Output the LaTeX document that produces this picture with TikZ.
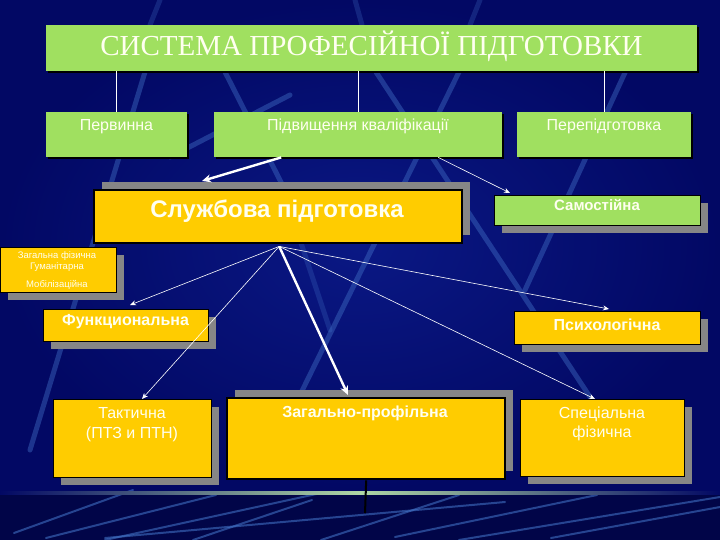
\documentclass[tikz,border=0pt]{standalone}
\usepackage{fontspec}
\setmainfont{Liberation Sans}
\newfontfamily\titlefont{Liberation Serif}
\usetikzlibrary{arrows.meta,shadows}
\definecolor{bgnavy}{RGB}{2,8,100}
\definecolor{bgdeep}{RGB}{1,5,72}
\definecolor{bglight}{RGB}{10,24,132}
\definecolor{streakc}{RGB}{70,120,205}
\definecolor{boxgreen}{RGB}{160,224,96}
\definecolor{boxyellow}{RGB}{255,204,0}
\definecolor{shgray}{RGB}{134,134,134}
\definecolor{bandgreen}{RGB}{175,215,165}
\definecolor{txtwhite}{RGB}{255,255,240}
\tikzset{
  gbox/.style={fill=boxgreen, draw=none, inner sep=0pt, anchor=north west},
  ybox/.style={fill=boxyellow, draw=black, line width=0.8pt, inner sep=0pt, anchor=north west},
  heavybox/.style={fill=boxyellow, draw=black, line width=2.4pt, inner sep=0pt, anchor=north west},
  shdown/.style={drop shadow={shadow xshift=8pt, shadow yshift=-8pt, fill=shgray, opacity=1}},
  shup/.style={drop shadow={shadow xshift=8pt, shadow yshift=8pt, fill=shgray, opacity=1}},
  shdark/.style={drop shadow={shadow xshift=2pt, shadow yshift=-2pt, fill=black, opacity=1}},
  lbl/.style={text=txtwhite, inner sep=0pt, anchor=base},
  treeline/.style={draw=white, line width=0.6pt},
  thinarr/.style={draw=white, line width=0.6pt, -{Stealth[length=6pt, width=5pt]}},
  thickarr/.style={draw=white, line width=2.4pt, -{Stealth[length=9pt, width=8pt]}},
  streak/.style={draw=streakc, line width=5pt, opacity=0.4, line cap=round},
  lowstreak/.style={draw=streakc, line width=2pt, opacity=0.55, line cap=round}
}
\begin{document}
\begin{tikzpicture}[x=1pt, y=-1pt]
% background
\useasboundingbox (0,0) rectangle (720,540);
\shade[inner color=bglight, outer color=bgnavy] (0,0) rectangle (720,491);
\fill[bgdeep] (0,491) rectangle (720,540);
% background streaks
\draw[streak] (145,72) -- (30,450);
\draw[streak] (225,72) -- (285,190);
\draw[streak] (376,72) -- (592,400);
\draw[streak] (459,72) -- (300,395);
\draw[streak] (640,40) -- (525,290);
\draw[streak, opacity=0.25] (300,240) -- (330,330);
\draw[streak] (290,95) -- (170,157);
\draw[streak, opacity=0.25] (160,0) -- (150,25);
\draw[streak, opacity=0.25] (355,0) -- (362,25);
\draw[streak, opacity=0.25] (480,0) -- (470,25);
\draw[lowstreak] (14,533) -- (133,490);
\draw[lowstreak] (46,538) -- (216,495);
\draw[lowstreak] (105,540) -- (321,493);
\draw[lowstreak] (105,538) -- (505,502);
\draw[lowstreak] (193,540) -- (312,500);
\draw[lowstreak] (321,540) -- (459,495);
\draw[lowstreak] (395,537) -- (597,495);
\draw[lowstreak] (459,540) -- (720,497);
\draw[lowstreak] (551,538) -- (720,507);
% bottom band
\shade[left color=bgnavy, right color=bgnavy, middle color=bandgreen] (0,491.5) rectangle (720,494.5);

% title and first level
\node[gbox, shdark, minimum width=651pt, minimum height=46pt] (title) at (46,25) {};
\node[lbl, font=\titlefont\fontsize{29}{30}\selectfont] (titletxt) at (371.5,56) {СИСТЕМА ПРОФЕСІЙНОЇ ПІДГОТОВКИ};

\node[gbox, shdark, minimum width=141pt, minimum height=45pt] (perv) at (46,112) {};
\node[gbox, shdark, minimum width=288pt, minimum height=45pt] (pidv) at (214,112) {};
\node[gbox, shdark, minimum width=174pt, minimum height=45pt] (perep) at (517,112) {};
\node[lbl, font=\fontsize{16}{18}\selectfont] (pervtxt) at (116.5,131) {Первинна};
\node[lbl, font=\fontsize{16}{18}\selectfont] (pidvtxt) at (358,131) {Підвищення кваліфікації};
\node[lbl, font=\fontsize{16}{18}\selectfont] (pereptxt) at (604,131) {Перепідготовка};

\draw[treeline] (title.south -| perv.north) -- (perv.north);
\draw[treeline] (title.south -| pidv.north) -- (pidv.north);
\draw[treeline] (title.south -| perep.north) -- (perep.north);

% second level
\node[heavybox, shup, minimum width=368pt, minimum height=53pt] (sluzh) at (93,189) {};
\node[lbl, font=\bfseries\fontsize{24}{26}\selectfont] (sluzhtxt) at (277,218) {Службова підготовка};

\node[gbox, draw=black, line width=0.8pt, shdown, minimum width=206pt, minimum height=30pt] (samo) at (494,195) {};
\node[lbl, font=\bfseries\fontsize{15}{17}\selectfont] (samotxt) at (597,211) {Самостійна};

\node[ybox, shdown, minimum width=116pt, minimum height=45pt] (zagf) at (0,247) {};
\node[lbl, font=\fontsize{9.5}{11}\selectfont] (zagf1) at (57,258.5) {Загальна фізична};
\node[lbl, font=\fontsize{9.5}{11}\selectfont] (zagf2) at (57,269.5) {Гуманітарна};
\node[lbl, font=\fontsize{9.5}{11}\selectfont] (zagf3) at (57,287.5) {Мобілізаційна};

\node[ybox, shdown, minimum width=165pt, minimum height=32pt] (func) at (43,309) {};
\node[lbl, font=\bfseries\fontsize{16}{18}\selectfont] (functxt) at (125.5,325.5) {Функциональна};

\node[ybox, shdown, minimum width=186pt, minimum height=33pt] (psych) at (514,311) {};
\node[lbl, font=\bfseries\fontsize{16}{18}\selectfont] (psychtxt) at (607,330.5) {Психологічна};

% third level
\node[ybox, shdown, minimum width=158pt, minimum height=78pt] (takt) at (53,399) {};
\node[lbl, font=\fontsize{16}{18}\selectfont] (takt1) at (132,418.5) {Тактична};
\node[lbl, font=\fontsize{16}{18}\selectfont] (takt2) at (132,438.5) {(ПТЗ и ПТН)};

\node[heavybox, shup, minimum width=278pt, minimum height=81pt] (zagpr) at (226,397) {};
\node[lbl, font=\bfseries\fontsize{16}{18}\selectfont] (zagprtxt) at (365,417.5) {Загально-профільна};

\node[ybox, shdown, minimum width=164pt, minimum height=77pt] (spec) at (520,399) {};
\node[lbl, font=\fontsize{16}{18}\selectfont] (spec1) at (602,418.5) {Спеціальна};
\node[lbl, font=\fontsize{16}{18}\selectfont] (spec2) at (602,437.5) {фізична};

\coordinate (stem) at (365,513);
\draw[black, line width=2pt] (zagpr.south) -- (stem);

% connectors
\coordinate (pidvA) at ([xshift=-77pt]pidv.south);
\coordinate (pidvB) at ([xshift=80pt]pidv.south);
\coordinate (sluzhIn) at (202,181);
\coordinate (samoIn) at (510,193);
\coordinate (hub) at ([xshift=1pt, yshift=-2pt]sluzh.south);
\coordinate (funcIn) at (130,305);
\coordinate (taktIn) at (142,399);
\coordinate (zagprIn) at (348,395);
\coordinate (psychIn) at (609,309);
\coordinate (specIn) at (595,399);

\draw[thickarr] (pidvA) -- (sluzhIn);
\draw[thinarr] (pidvB) -- (samoIn);
\draw[thinarr] (hub) -- (funcIn);
\draw[thinarr] (hub) -- (taktIn);
\draw[thickarr] (hub) -- (zagprIn);
\draw[thinarr] (hub) -- (psychIn);
\draw[thinarr] (hub) -- (specIn);
\end{tikzpicture}
\end{document}
